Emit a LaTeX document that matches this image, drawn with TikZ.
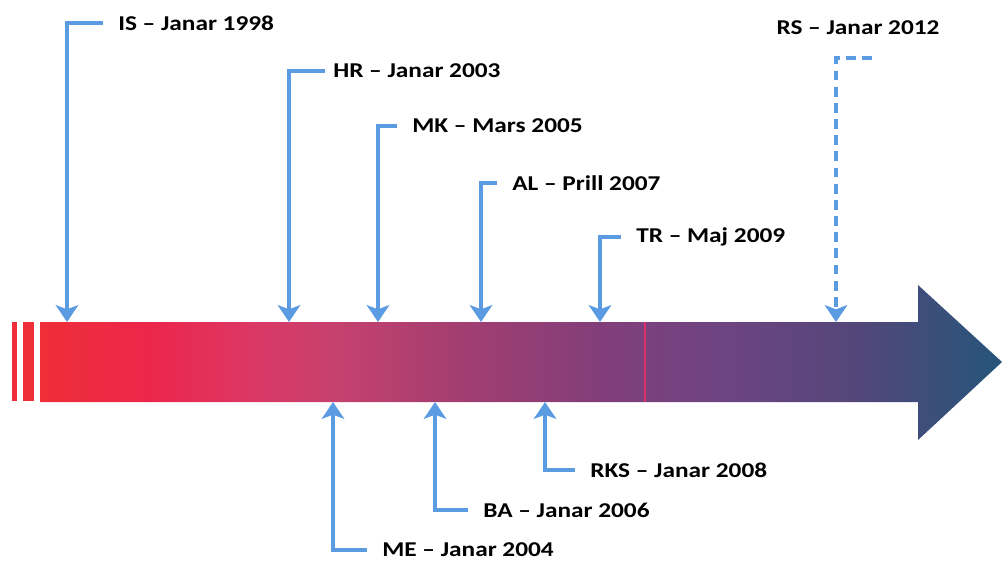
\documentclass[tikz,border=0pt]{standalone}
\usepackage{graphicx}
\usepackage{fontspec}
\setmainfont{Carlito}
\usetikzlibrary{arrows.meta}

\definecolor{pinblue}{RGB}{91,155,225}
\definecolor{barred}{RGB}{238,46,56}
\definecolor{barline}{RGB}{218,48,100}
\pgfdeclarehorizontalshading{timebar}{100bp}{color(0bp)=(barred); color(25bp)=(barred);
  color(30.7bp)=(rgb,255:red,236;green,38;blue,75); color(35.9bp)=(rgb,255:red,220;green,55;blue,100);
  color(40bp)=(rgb,255:red,200;green,65;blue,110); color(46.3bp)=(rgb,255:red,165;green,62;blue,112);
  color(54.1bp)=(rgb,255:red,130;green,62;blue,122); color(60.3bp)=(rgb,255:red,110;green,68;blue,130);
  color(67.1bp)=(rgb,255:red,85;green,70;blue,122); color(75bp)=(rgb,255:red,38;green,85;blue,122);
  color(100bp)=(rgb,255:red,38;green,85;blue,122)}
\newcommand{\lbltext}[1]{\scalebox{1.2}[1]{#1}}

\begin{document}
\begin{tikzpicture}[x=0.025cm,y=-0.025cm,
    joinline/.style={pinblue, line width=2.8pt, -{Stealth[width=16pt,length=12pt,inset=3pt]}},
    lbl/.style={font=\bfseries\fontsize{15}{17}\selectfont, anchor=west, inner sep=0pt}]
    \useasboundingbox (0,0) rectangle (1003,564);

    % Time bar
    \shade[shading=timebar] (40,322) -- (918,322) -- (918,285) -- (1002,362)
        -- (918,440) -- (918,402) -- (40,402) -- cycle;
    \fill[barred] (12,322) rectangle (17,401);
    \fill[barred] (23,322) rectangle (34,401);
    \draw[barline, line width=1.5pt] (645,322) -- (645,402);

    % Points on the bar
    \coordinate (tIS) at (67,322);
    \coordinate (tHR) at (289,322);
    \coordinate (tMK) at (378,322);
    \coordinate (tAL) at (481,322);
    \coordinate (tTR) at (600,322);
    \coordinate (tRS) at (836,322);
    \coordinate (bME) at (333,402);
    \coordinate (bBA) at (435,402);
    \coordinate (bRKS) at (545,402);

    % Labels above
    \node[lbl] (lblIS) at (118,23) {\lbltext{IS – Janar 1998}};
    \node[lbl] (lblHR) at (333,71) {\lbltext{HR – Janar 2003}};
    \node[lbl] (lblMK) at (412,126) {\lbltext{MK – Mars 2005}};
    \node[lbl] (lblAL) at (512,183) {\lbltext{AL – Prill 2007}};
    \node[lbl] (lblTR) at (636,237) {\lbltext{TR – Maj 2009}};
    \node[lbl, anchor=center] (lblRS) at (858,28) {\lbltext{RS – Janar 2012}};
    \coordinate (sRS) at (872,58);

    % Labels below
    \node[lbl] (lblME) at (382,550) {\lbltext{ME – Janar 2004}};
    \node[lbl] (lblBA) at (483,510) {\lbltext{BA – Janar 2006}};
    \node[lbl] (lblRKS) at (590,470) {\lbltext{RKS – Janar 2008}};

    % Connectors
    \draw[joinline] ([xshift=-11pt]lblIS.west) -| (tIS);
    \draw[joinline] ([xshift=-6pt]lblHR.west) -| (tHR);
    \draw[joinline] ([xshift=-11pt]lblMK.west) -| (tMK);
    \draw[joinline] ([xshift=-11pt]lblAL.west) -| (tAL);
    \draw[joinline] ([xshift=-11pt]lblTR.west) -| (tTR);
    \draw[joinline, dash pattern=on 7pt off 4.5pt] (sRS) -| (tRS);
    \draw[joinline] ([xshift=-11pt]lblME.west) -| (bME);
    \draw[joinline] ([xshift=-11pt]lblBA.west) -| (bBA);
    \draw[joinline] ([xshift=-11pt]lblRKS.west) -| (bRKS);
\end{tikzpicture}
\end{document}
